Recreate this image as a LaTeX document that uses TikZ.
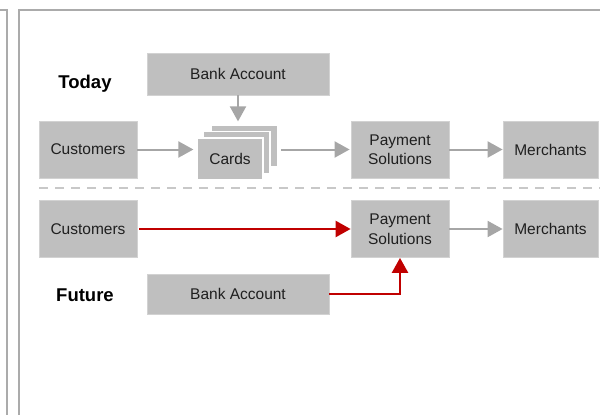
\documentclass[tikz,border=0pt]{standalone}
\usepackage{fontspec}
\setmainfont{Liberation Sans}
\usetikzlibrary{arrows.meta}
\definecolor{boxgray}{HTML}{BFBFBF}
\definecolor{boxedge}{HTML}{D2D2D2}
\definecolor{linegray}{HTML}{A6A6A6}
\definecolor{framegray}{HTML}{ABABAB}
\definecolor{dashgray}{HTML}{C8C8C8}
\definecolor{redline}{HTML}{C00000}
\begin{document}
\begin{tikzpicture}[x=1pt,y=-1pt,
  box/.style={fill=boxgray, draw=boxedge, line width=0.8pt, inner sep=0pt, align=center,
    text=black!88, font=\fontsize{15.5}{19.5}\selectfont},
  cardbox/.style={box, draw=white, line width=1.2pt, minimum height=42pt},
  stdbox/.style={box, minimum width=98pt, minimum height=57pt},
  bankbox/.style={box, minimum width=182pt},
  lbl/.style={font=\bfseries\fontsize{18.5}{21}\selectfont, text=black},
  garrow/.style={draw=linegray, line width=2pt, -{Triangle[length=15pt,width=16pt]}},
  rarrow/.style={draw=redline, line width=2.5pt, -{Triangle[length=15pt,width=16pt]}},
  frameline/.style={draw=framegray, line width=2pt},
  sepline/.style={draw=dashgray, line width=2pt, dash pattern=on 9pt off 7pt}
]
\useasboundingbox (0,0) rectangle (600,415);
% frames
\draw[frameline] (0,10) -- (7,10) -- (7,416);
\draw[frameline] (19,416) -- (19,10) -- (601,10);
% labels
\node[lbl] (today) at (85,84) {Today};
\node[lbl] (future) at (85,295) {Future};
% today row
\node[bankbox, minimum height=42pt] (bank1) at (238,74) {Bank Account};
\node[stdbox] (cust1) at (88,149.5) {Customers};
\node[cardbox, minimum width=66pt] (card3) at (244.5,146) {};
\node[cardbox, minimum width=67pt] (card2) at (236.5,152.5) {};
\node[cardbox, minimum width=66pt] (card1) at (230,159) {Cards};
\node[stdbox] (pay1) at (400,149.5) {Payment\\Solutions};
\node[stdbox, minimum width=95pt] (merch1) at (550.5,149.5) {Merchants};
% separator
\coordinate (sepL) at (39,188);
\coordinate (sepR) at (601,188);
\draw[sepline] (sepL) -- (sepR);
% future row
\node[stdbox] (cust2) at (88,229) {Customers};
\node[stdbox] (pay2) at (400,229) {Payment\\Solutions};
\node[stdbox, minimum width=95pt] (merch2) at (550.5,229) {Merchants};
\node[bankbox, minimum height=40pt] (bank2) at (238,294) {Bank Account};
% connectors
\draw[garrow, shorten >=3pt] (bank1.south) -- (bank1.south |- card3.north);
\draw[garrow, shorten >=3pt] (cust1.east) -- (cust1.east -| card1.west);
\draw[garrow, shorten <=3pt, shorten >=1pt] (card3.east |- pay1.west) -- (pay1.west);
\draw[garrow] (pay1.east) -- (merch1.west);
\draw[rarrow, shorten <=2pt] (cust2.east) -- (pay2.west);
\draw[rarrow] (bank2.east) -| (pay2.south);
\draw[garrow] (pay2.east) -- (merch2.west);
\end{tikzpicture}
\end{document}
